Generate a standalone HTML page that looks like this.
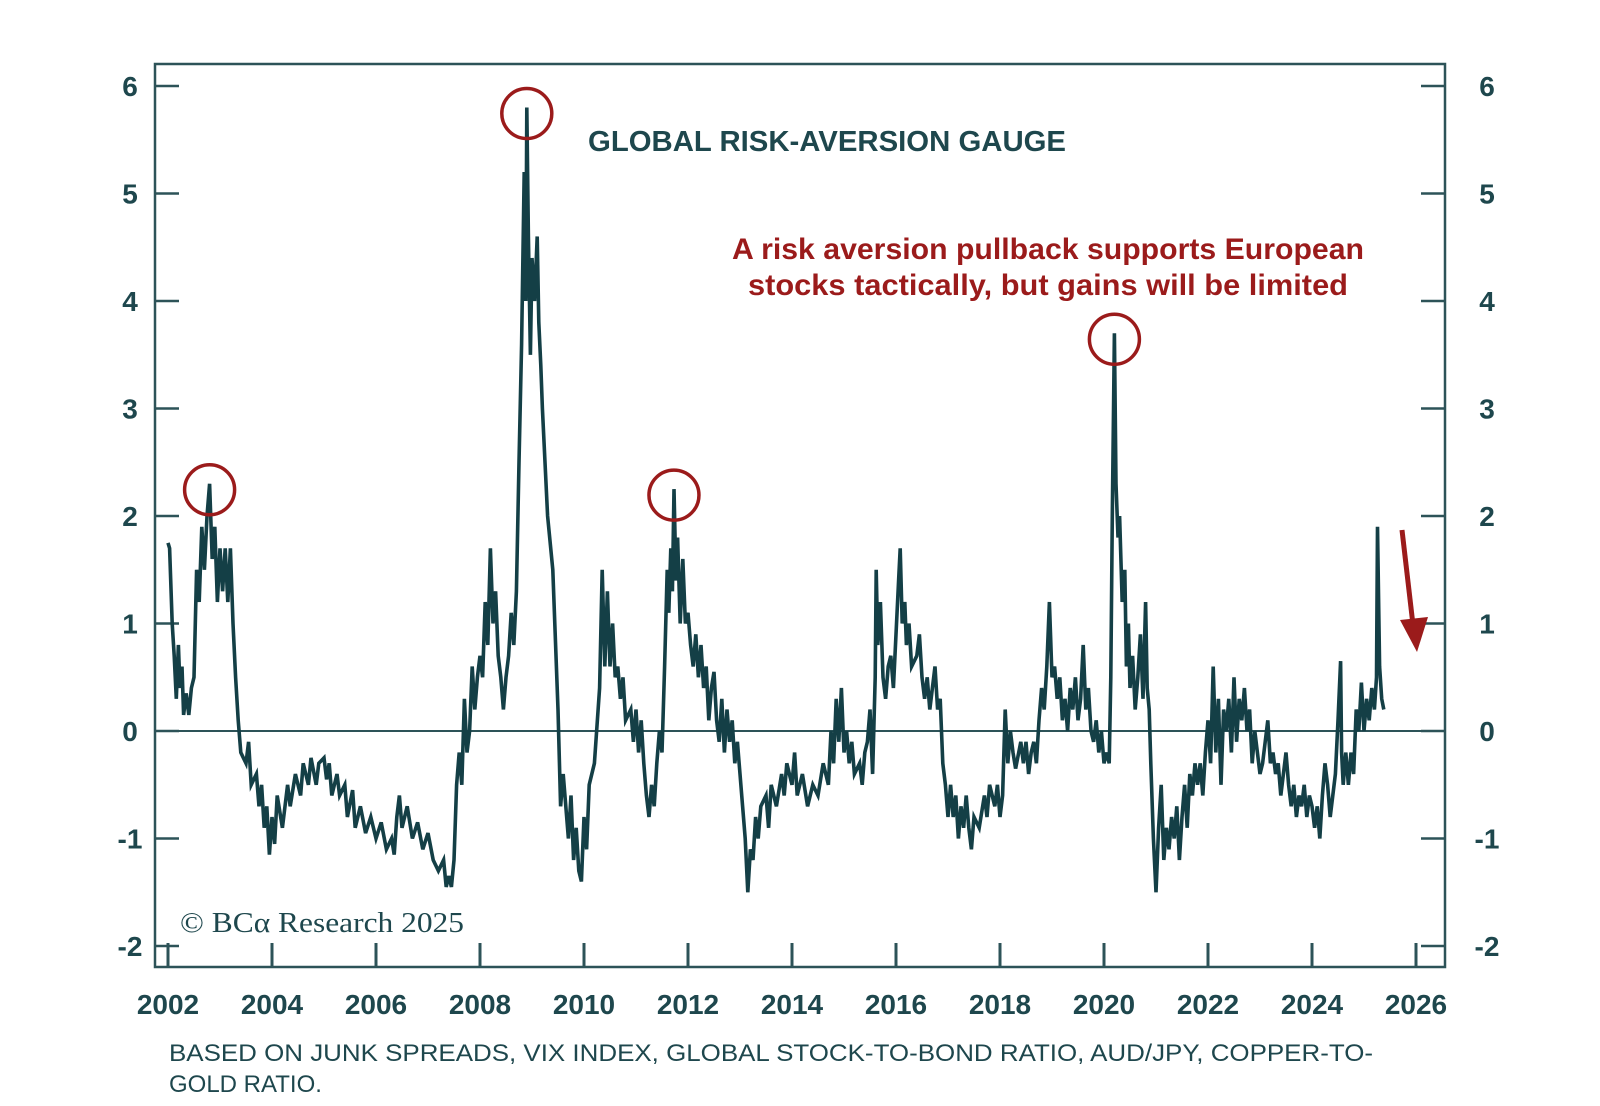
<!DOCTYPE html>
<html><head><meta charset="utf-8"><style>
body{margin:0;background:#fff;}
svg{display:block;font-family:"Liberation Sans",sans-serif;}
</style></head><body>
<svg id="chart" width="1600" height="1106" viewBox="0 0 1600 1106">
<rect x="155" y="64" width="1290" height="903" fill="none" stroke="#2d5358" stroke-width="2.5"/>
<g id="axes"></g>
<path id="series" fill="none" stroke="#143f46" stroke-width="3.6" stroke-linejoin="miter"/>
<g id="circles"></g>
<text x="588" y="151" font-size="29" fill="#1e474d" font-weight="bold" textLength="478" lengthAdjust="spacingAndGlyphs">GLOBAL RISK-AVERSION GAUGE</text>
<text x="1048" y="259" font-size="30" fill="#9b1b1b" font-weight="bold" text-anchor="middle" textLength="632" lengthAdjust="spacingAndGlyphs">A risk aversion pullback supports European</text>
<text x="1048" y="295" font-size="30" fill="#9b1b1b" font-weight="bold" text-anchor="middle" textLength="600" lengthAdjust="spacingAndGlyphs">stocks tactically, but gains will be limited</text>
<line x1="1402" y1="530" x2="1413" y2="625" stroke="#9b1b1b" stroke-width="5"/>
<polygon points="1400,620 1428,617 1417,652" fill="#9b1b1b"/>
<text x="180" y="932" font-size="29" fill="#1e474d" font-family="Liberation Serif, serif" textLength="284" lengthAdjust="spacingAndGlyphs">© BCα Research 2025</text>
<text x="169" y="1061" font-size="24" fill="#1e474d" textLength="1204" lengthAdjust="spacingAndGlyphs">BASED ON JUNK SPREADS, VIX INDEX, GLOBAL STOCK-TO-BOND RATIO, AUD/JPY, COPPER-TO-</text>
<text x="169" y="1092" font-size="24" fill="#1e474d">GOLD RATIO.</text>
</svg>
<script>
const years = [2002.0,2002.03,2002.08,2002.12,2002.16,2002.2,2002.23,2002.27,2002.3,2002.35,2002.4,2002.45,2002.5,2002.55,2002.6,2002.65,2002.7,2002.75,2002.8,2002.85,2002.9,2002.95,2003.0,2003.05,2003.1,2003.15,2003.2,2003.25,2003.3,2003.35,2003.4,2003.5,2003.55,2003.6,2003.7,2003.75,2003.8,2003.85,2003.9,2003.95,2004.0,2004.05,2004.1,2004.2,2004.3,2004.35,2004.45,2004.55,2004.6,2004.7,2004.75,2004.85,2004.9,2005.0,2005.05,2005.1,2005.15,2005.25,2005.3,2005.4,2005.45,2005.55,2005.6,2005.7,2005.8,2005.9,2006.0,2006.1,2006.2,2006.3,2006.35,2006.4,2006.45,2006.5,2006.6,2006.7,2006.8,2006.9,2007.0,2007.1,2007.2,2007.3,2007.35,2007.4,2007.45,2007.5,2007.55,2007.6,2007.65,2007.7,2007.75,2007.8,2007.85,2007.9,2007.95,2008.0,2008.05,2008.1,2008.15,2008.2,2008.25,2008.3,2008.35,2008.4,2008.45,2008.5,2008.55,2008.6,2008.65,2008.7,2008.75,2008.8,2008.85,2008.88,2008.9,2008.93,2008.97,2009.0,2009.05,2009.1,2009.13,2009.17,2009.2,2009.3,2009.4,2009.5,2009.55,2009.6,2009.7,2009.75,2009.8,2009.85,2009.9,2009.95,2010.0,2010.05,2010.1,2010.2,2010.3,2010.35,2010.4,2010.45,2010.5,2010.55,2010.6,2010.65,2010.7,2010.75,2010.8,2010.9,2010.95,2011.0,2011.05,2011.1,2011.15,2011.2,2011.25,2011.3,2011.35,2011.4,2011.45,2011.5,2011.55,2011.6,2011.63,2011.67,2011.7,2011.73,2011.77,2011.8,2011.85,2011.9,2011.95,2012.0,2012.05,2012.1,2012.15,2012.2,2012.25,2012.3,2012.35,2012.4,2012.45,2012.5,2012.55,2012.6,2012.65,2012.7,2012.75,2012.8,2012.85,2012.9,2012.95,2013.0,2013.05,2013.1,2013.15,2013.2,2013.25,2013.3,2013.35,2013.4,2013.5,2013.55,2013.6,2013.7,2013.8,2013.85,2013.9,2014.0,2014.05,2014.1,2014.2,2014.3,2014.4,2014.5,2014.6,2014.7,2014.75,2014.8,2014.85,2014.9,2014.95,2015.0,2015.05,2015.1,2015.15,2015.2,2015.3,2015.35,2015.4,2015.45,2015.5,2015.55,2015.6,2015.62,2015.65,2015.7,2015.75,2015.8,2015.85,2015.9,2015.95,2016.0,2016.05,2016.08,2016.12,2016.17,2016.2,2016.25,2016.3,2016.4,2016.45,2016.5,2016.55,2016.6,2016.65,2016.7,2016.75,2016.8,2016.85,2016.9,2016.95,2017.0,2017.05,2017.1,2017.15,2017.2,2017.25,2017.3,2017.35,2017.4,2017.45,2017.5,2017.6,2017.7,2017.75,2017.8,2017.9,2017.95,2018.0,2018.05,2018.1,2018.15,2018.2,2018.25,2018.3,2018.4,2018.45,2018.5,2018.55,2018.6,2018.65,2018.7,2018.75,2018.8,2018.85,2018.9,2018.95,2019.0,2019.05,2019.1,2019.15,2019.2,2019.25,2019.3,2019.35,2019.4,2019.45,2019.5,2019.55,2019.6,2019.65,2019.7,2019.75,2019.8,2019.85,2019.9,2019.95,2020.0,2020.05,2020.1,2020.13,2020.16,2020.2,2020.23,2020.27,2020.3,2020.35,2020.4,2020.43,2020.47,2020.5,2020.55,2020.6,2020.65,2020.7,2020.75,2020.8,2020.83,2020.87,2020.9,2020.95,2021.0,2021.05,2021.1,2021.15,2021.2,2021.25,2021.3,2021.35,2021.4,2021.45,2021.5,2021.55,2021.6,2021.65,2021.7,2021.75,2021.8,2021.85,2021.9,2021.95,2022.0,2022.05,2022.1,2022.15,2022.2,2022.25,2022.3,2022.35,2022.4,2022.45,2022.5,2022.55,2022.6,2022.65,2022.7,2022.75,2022.8,2022.85,2022.9,2022.95,2023.0,2023.05,2023.1,2023.15,2023.2,2023.25,2023.3,2023.35,2023.4,2023.45,2023.5,2023.55,2023.6,2023.65,2023.7,2023.75,2023.8,2023.85,2023.9,2023.95,2024.0,2024.05,2024.1,2024.15,2024.2,2024.25,2024.3,2024.35,2024.4,2024.45,2024.5,2024.55,2024.57,2024.6,2024.65,2024.7,2024.75,2024.8,2024.85,2024.9,2024.95,2025.0,2025.05,2025.1,2025.15,2025.2,2025.24,2025.26,2025.3,2025.34,2025.38];
const values = [1.75,1.7,1.0,0.7,0.3,0.8,0.4,0.6,0.15,0.35,0.15,0.4,0.5,1.5,1.2,1.9,1.5,2.0,2.3,1.6,1.9,1.2,1.7,1.3,1.7,1.2,1.7,1.0,0.5,0.1,-0.2,-0.3,-0.1,-0.5,-0.4,-0.7,-0.5,-0.9,-0.7,-1.15,-0.8,-1.05,-0.6,-0.9,-0.5,-0.7,-0.4,-0.6,-0.3,-0.5,-0.25,-0.5,-0.3,-0.25,-0.45,-0.3,-0.6,-0.4,-0.6,-0.5,-0.8,-0.55,-0.9,-0.7,-0.95,-0.8,-1.0,-0.85,-1.1,-1.0,-1.15,-0.8,-0.6,-0.9,-0.7,-1.0,-0.85,-1.1,-0.95,-1.2,-1.3,-1.2,-1.45,-1.35,-1.45,-1.2,-0.5,-0.2,-0.5,0.3,-0.2,0.0,0.6,0.2,0.5,0.7,0.5,1.2,0.8,1.7,1.0,1.3,0.7,0.5,0.2,0.5,0.7,1.1,0.8,1.3,2.5,3.6,5.2,4.0,5.8,4.6,3.5,4.4,4.0,4.6,3.8,3.4,3.0,2.0,1.5,0.2,-0.7,-0.4,-1.0,-0.6,-1.2,-0.9,-1.3,-1.4,-0.8,-1.1,-0.5,-0.3,0.4,1.5,0.6,1.3,0.6,1.0,0.5,0.6,0.3,0.5,0.1,0.2,-0.1,0.2,-0.2,0.1,-0.3,-0.6,-0.8,-0.5,-0.7,-0.3,0.0,-0.2,0.6,1.5,1.1,1.7,1.3,2.25,1.4,1.8,1.0,1.6,1.0,1.1,0.8,0.6,0.9,0.5,0.8,0.4,0.6,0.1,0.4,0.55,0.1,-0.1,0.3,-0.2,0.2,-0.1,0.1,-0.3,-0.1,-0.4,-0.7,-1.0,-1.5,-1.1,-1.2,-0.8,-1.0,-0.7,-0.6,-0.9,-0.5,-0.7,-0.4,-0.6,-0.3,-0.5,-0.2,-0.6,-0.4,-0.7,-0.5,-0.6,-0.3,-0.5,0.0,-0.3,0.3,-0.1,0.4,-0.2,0.0,-0.3,-0.1,-0.4,-0.3,-0.5,-0.2,-0.1,0.2,-0.4,0.5,1.5,0.8,1.2,0.5,0.3,0.6,0.7,0.4,0.9,1.4,1.7,1.0,1.2,0.8,1.0,0.6,0.7,0.9,0.5,0.3,0.5,0.2,0.4,0.6,0.2,0.3,-0.3,-0.5,-0.8,-0.5,-0.8,-0.6,-1.0,-0.7,-0.9,-0.6,-0.9,-1.1,-0.8,-0.9,-0.6,-0.8,-0.5,-0.7,-0.5,-0.8,-0.6,0.2,-0.3,0.0,-0.2,-0.35,-0.1,-0.3,-0.1,-0.4,-0.2,-0.1,-0.3,0.1,0.4,0.2,0.6,1.2,0.5,0.6,0.3,0.5,0.1,0.3,0.0,0.4,0.2,0.5,0.1,0.3,0.8,0.2,0.4,0.0,-0.1,0.1,-0.2,0.0,-0.3,-0.2,-0.3,0.5,2.0,3.7,2.3,1.8,2.0,1.2,1.5,0.6,1.0,0.4,0.7,0.2,0.5,0.9,0.3,1.2,0.4,0.2,-0.3,-1.0,-1.5,-0.9,-0.5,-1.2,-0.9,-1.1,-0.8,-1.0,-0.7,-1.2,-0.8,-0.5,-0.9,-0.4,-0.6,-0.3,-0.5,-0.3,-0.6,-0.2,0.1,-0.3,0.6,-0.2,0.3,-0.5,0.2,0.0,0.3,-0.2,0.5,-0.1,0.3,0.1,0.4,0.0,0.2,-0.3,0.0,-0.2,-0.4,-0.3,-0.1,0.1,-0.3,-0.2,-0.4,-0.3,-0.6,-0.4,-0.2,-0.5,-0.7,-0.5,-0.8,-0.6,-0.7,-0.5,-0.8,-0.6,-0.7,-0.9,-0.7,-1.0,-0.6,-0.3,-0.5,-0.8,-0.6,-0.4,0.1,0.65,-0.2,-0.5,-0.2,-0.5,-0.2,-0.4,0.2,0.0,0.45,0.0,0.3,0.1,0.4,0.2,0.5,1.9,0.6,0.3,0.2];
const yTicks = [-2,-1,0,1,2,3,4,5,6];
const xTicks = [2002,2004,2006,2008,2010,2012,2014,2016,2018,2020,2022,2024,2026];
const peakYears = [2002.8,2008.9,2011.73,2020.2];
const peakValues = [2.3,5.8,2.25,3.7];

const NS = "http://www.w3.org/2000/svg";
const X = yr => 168 + (yr - 2002) * 52;
const Y = v => 731 - v * 107.5;
const axes = document.getElementById('axes');
function mk(tag, attrs, parent){const e=document.createElementNS(NS,tag);for(const k in attrs)e.setAttribute(k,attrs[k]);parent.appendChild(e);return e;}
const C = "#2d5358";
yTicks.forEach(v=>{
  const l = mk('line',{x1:155,x2:179,y1:Y(v),y2:Y(v),stroke:C,'stroke-width':2.5},axes);
  
  
  const r = mk('line',{x1:1421,x2:1445,y1:Y(v),y2:Y(v),stroke:C,'stroke-width':2.5},axes);
  
  
  const t1 = mk('text',{x:130,y:Y(v)+10,'font-size':28,'font-weight':'bold',fill:'#1e474d','text-anchor':'middle'},axes);
  t1.textContent = v;
  
  
  const t2 = mk('text',{x:1487,y:Y(v)+10,'font-size':28,'font-weight':'bold',fill:'#1e474d','text-anchor':'middle'},axes);
  t2.textContent = v;
  
  
});
const zl = mk('line',{x1:155,x2:1445,y1:Y(0),y2:Y(0),stroke:C,'stroke-width':2},axes);


xTicks.forEach(yr=>{
  const l = mk('line',{x1:X(yr),x2:X(yr),y1:943,y2:967,stroke:C,'stroke-width':3},axes);
  
  
  const t = mk('text',{x:X(yr),y:1014,'font-size':28,'font-weight':'bold',fill:'#1e474d','text-anchor':'middle'},axes);
  t.textContent = yr;
  
  
});
let d='';
years.forEach((yr,i)=>{d+=(i?'L':'M')+X(yr).toFixed(1)+','+Y(values[i]).toFixed(1);});
document.getElementById('series').setAttribute('d',d);
const cg = document.getElementById('circles');
peakYears.forEach((yr,i)=>{
  const c = mk('circle',{cx:X(yr),cy:Y(peakValues[i])+6,r:25,fill:'none',stroke:'#9b1b1b','stroke-width':3.5},cg);
  
  
});
</script>
</body></html>
